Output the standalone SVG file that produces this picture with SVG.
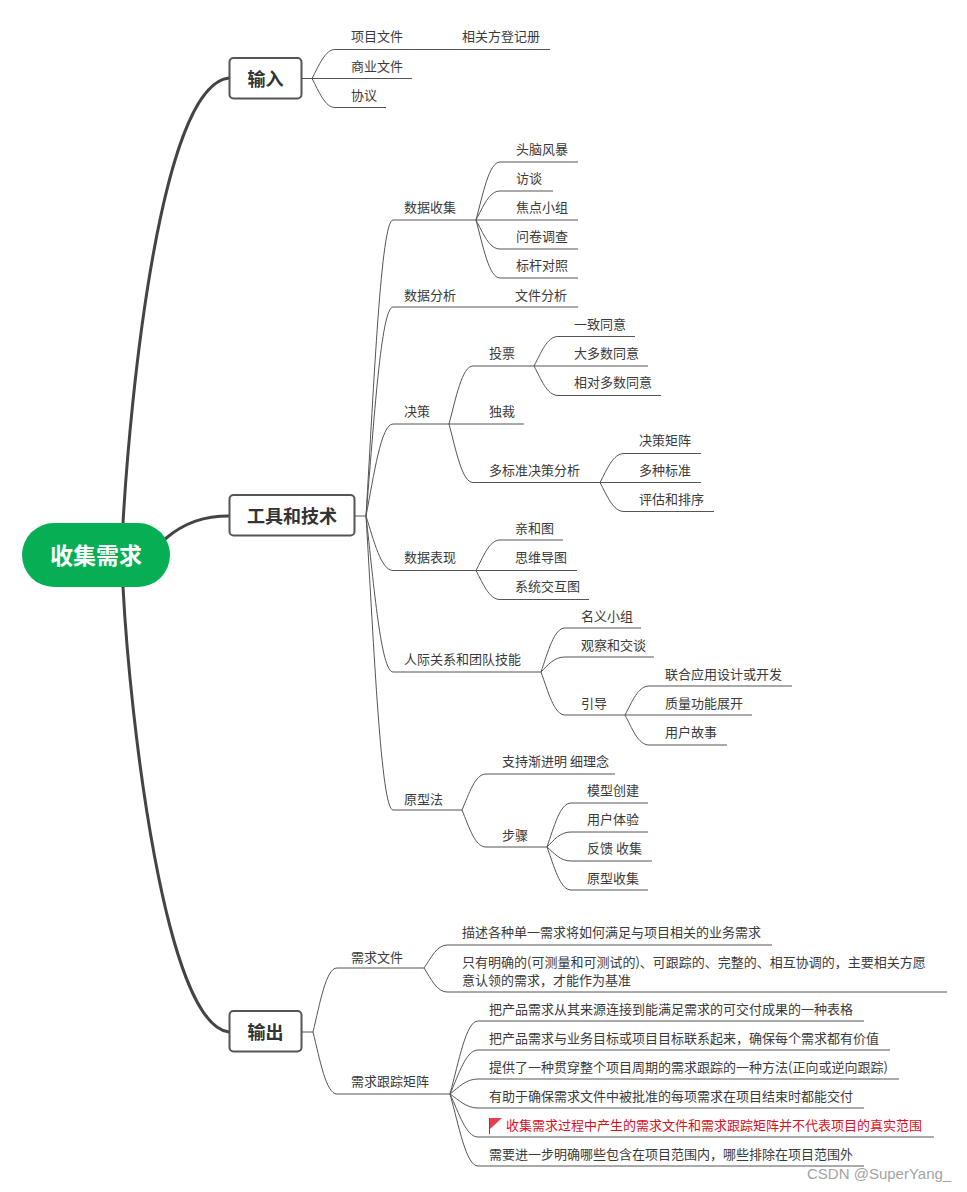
<svg xmlns="http://www.w3.org/2000/svg" width="967" height="1192" viewBox="0 0 967 1192">
<style>
text{font-family:"Noto Sans CJK SC","Microsoft YaHei","Liberation Sans",sans-serif;font-size:13px;fill:#3a3a3a}
.l{fill:none;stroke:#555;stroke-width:1}
.t{fill:none;stroke:#444;stroke-width:3;stroke-linecap:round}
.b{fill:#fff;stroke:#555;stroke-width:2}
.h{font-size:18px;font-weight:700;text-anchor:middle;fill:#333}
</style>
<rect width="967" height="1192" fill="#fff"/>
<g id="connectors">
<path class="t" d="M123 523C130 400 160 85 229 78"/>
<path class="t" d="M165 539C185 522 205 516 229 516"/>
<path class="t" d="M123 587C130 720 165 1025 229 1032"/>
<path class="l" d="M302 78.500H312M312 78.500c7-13 13-29 23-29H550M312 78.500H412M312 78.500c7 13 13 29 23 29H386"/>
<path class="l" d="M355 516H366M366 516c8-133 15-296 27-296H476M366 516c8-94 15-209 27-209H578M366 516c8-41 15-92 27-92H449M366 516c8 25 15 54.500 27 54.500H476M366 516c8 70 15 156 27 156H541M366 516c8 132 15 294 27 294H462"/>
<path class="l" d="M476 220c7-26 13-58 24-58H578M476 220c7-13 13-29 24-29H553M476 220H578M476 220c7 13 13 29 24 29H578M476 220c7 26 13 58 24 58H578"/>
<path class="l" d="M449 424c7-26 13-58 24-58H534M449 424H524M449 424c7 26 13 58.500 24 58.500H600"/>
<path class="l" d="M534 366c7-13 13-29.500 24-29.500H635M534 366H648M534 366c7 13 13 29.500 24 29.500H661"/>
<path class="l" d="M600 482.500c7-13 13-29 24-29H701M600 482.500H701M600 482.500c7 13 13 29 24 29H714"/>
<path class="l" d="M476 570.500c7-13 13-30.500 24-30.500H563M476 570.500H577M476 570.500c7 13 13 29 24 29H589"/>
<path class="l" d="M541 672c7-20 13-44 24-44H641M541 672c7-7 13-15 24-15H654M541 672c7 19 13 43 24 43H625"/>
<path class="l" d="M625 715c7-13 13-29 24-29H792M625 715H752M625 715c7 13 13 30 24 30H727"/>
<path class="l" d="M462 810c7-16 13-36 24-36H615M462 810c7 17 13 37 24 37H547"/>
<path class="l" d="M547 847c7-20 13-44 24-44H648M547 847c7-7 13-15 24-15H648M547 847c7 6 13 14 24 14H652M547 847c7 19 13 43 24 43H648"/>
<path class="l" d="M302 1032H313M313 1032c7-29 13-64 24-64H424M313 1032c7 28 13 62 24 62H450"/>
<path class="l" d="M424 968c7-10 13-23 23-23H772M424 968c7 11 13 24 23 24H947"/>
<path class="l" d="M450 1094c9-33 16-73 28-73H864M450 1094c9-20 16-44 28-44H890M450 1094c9-7 16-15 28-15H899M450 1094c9 6 16 14 28 14H864M450 1094c9 19 16 43 28 43H934M450 1094c9 32 16 72 28 72H864"/>
</g>
<g id="root"><rect x="22" y="523" width="148" height="64" rx="32" fill="#06ae54"/><text x="96" y="564" text-anchor="middle" style="font-size:23px;font-weight:700;fill:#fff">收集需求</text></g>
<g id="input"><rect class="b" x="229.500" y="58" width="72" height="40.500" rx="4"/><text class="h" x="265.500" y="85.500">输入</text></g>
<g id="tools"><rect class="b" x="229.500" y="495" width="125" height="40.500" rx="4"/><text class="h" x="292" y="522.500">工具和技术</text></g>
<g id="output"><rect class="b" x="229.500" y="1011" width="72" height="40.500" rx="4"/><text class="h" x="265.500" y="1038.500">输出</text></g>
<g id="labels">
<text x="351" y="41">项目文件</text><text x="462" y="41">相关方登记册</text><text x="351" y="70.500">商业文件</text><text x="351" y="99.500">协议</text>
<text x="404" y="212">数据收集</text><text x="516" y="154">头脑风暴</text><text x="516" y="183">访谈</text><text x="516" y="212">焦点小组</text><text x="516" y="241">问卷调查</text><text x="516" y="270">标杆对照</text>
<text x="404" y="300">数据分析</text><text x="515" y="300">文件分析</text>
<text x="404" y="416">决策</text><text x="489" y="358">投票</text><text x="489" y="416">独裁</text><text x="489" y="475">多标准决策分析</text>
<text x="574" y="329">一致同意</text><text x="574" y="358">大多数同意</text><text x="574" y="387">相对多数同意</text>
<text x="639" y="445">决策矩阵</text><text x="639" y="475">多种标准</text><text x="639" y="504">评估和排序</text>
<text x="404" y="562">数据表现</text><text x="515" y="533">亲和图</text><text x="515" y="562">思维导图</text><text x="515" y="591">系统交互图</text>
<text x="404" y="664">人际关系和团队技能</text><text x="581" y="621">名义小组</text><text x="581" y="650">观察和交谈</text><text x="581" y="708">引导</text>
<text x="665" y="679">联合应用设计或开发</text><text x="665" y="708">质量功能展开</text><text x="665" y="737">用户故事</text>
<text x="404" y="803.500">原型法</text><text x="502" y="766">支持渐进明 细理念</text><text x="502" y="840">步骤</text>
<text x="587" y="795">模型创建</text><text x="587" y="824">用户体验</text><text x="587" y="853">反馈 收集</text><text x="587" y="883">原型收集</text>
<text x="351" y="961.500">需求文件</text><text x="351" y="1086">需求跟踪矩阵</text>
<text x="462" y="937">描述各种单一需求将如何满足与项目相关的业务需求</text>
<text x="462" y="966.500">只有明确的(可测量和可测试的)、可跟踪的、完整的、相互协调的，主要相关方愿</text>
<text x="462" y="985">意认领的需求，才能作为基准</text>
<text x="489" y="1014">把产品需求从其来源连接到能满足需求的可交付成果的一种表格</text>
<text x="489" y="1043">把产品需求与业务目标或项目目标联系起来，确保每个需求都有价值</text>
<text x="489" y="1072">提供了一种贯穿整个项目周期的需求跟踪的一种方法(正向或逆向跟踪)</text>
<text x="489" y="1101">有助于确保需求文件中被批准的每项需求在项目结束时都能交付</text>
<text x="506" y="1130" style="fill:#d8101c">收集需求过程中产生的需求文件和需求跟踪矩阵并不代表项目的真实范围</text>
<text x="489" y="1159">需要进一步明确哪些包含在项目范围内，哪些排除在项目范围外</text>
</g>
<g id="flag"><path d="M489.500 1118V1134" stroke="#555" fill="none"/><path d="M490 1118H502L496 1123.500L490 1129Z" fill="#e4404f"/></g>
<text id="watermark" x="807" y="1179" style="font-family:'Liberation Sans',sans-serif;font-size:15px;fill:#a3a3a3">CSDN @SuperYang_</text>
</svg>
